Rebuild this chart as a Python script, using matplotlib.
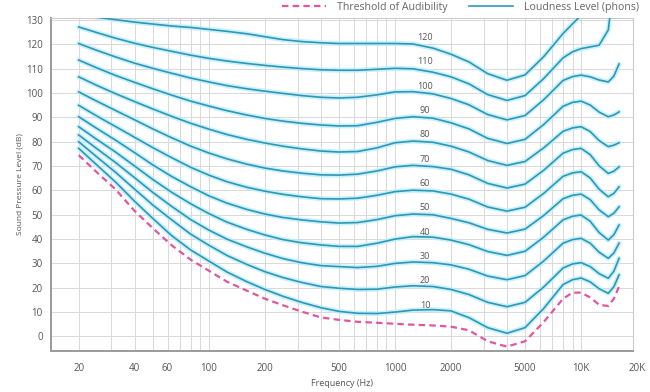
import matplotlib
matplotlib.use('Agg')
import matplotlib.pyplot as plt
from matplotlib.lines import Line2D
from matplotlib.ticker import NullFormatter

freq = [20, 25, 31.5, 40, 50, 63, 80, 100, 125, 160, 200, 250, 315, 400, 500, 630,
        800, 1000, 1250, 1600, 2000, 2500, 3150, 4000, 5000, 6300, 8000, 9000,
        10000, 11200, 12500, 14000, 15000, 16000]

threshold = [74.5, 67.5, 60.5, 51.5, 44.5, 37.5, 31.5, 27.0, 22.5, 18.8, 15.5, 12.8, 10.2, 7.8, 6.8, 6.0,
             5.6, 5.2, 4.8, 4.5, 4.0, 2.5, -2.0, -4.2, -2.0, 5.9, 15.5, 18.0,
             18.0, 16.0, 13.0, 12.5, 15.5, 20.5]

phon10 = [77.3, 70.5, 63.5, 55.5, 48.5, 41.5, 35.5, 31.0, 26.5, 22.5, 19.3, 16.5, 14.0, 11.8, 10.3, 9.5,
          9.4, 10.0, 10.8, 11.0, 10.5, 7.7, 3.6, 1.3, 3.6, 11.5, 21.3, 23.3,
          24.0, 22.4, 19.6, 17.7, 20.4, 25.3]
phon20 = [80.0, 73.8, 67.5, 60.5, 54.0, 48.0, 42.0, 37.5, 33.3, 29.6, 26.6, 24.2, 22.2, 20.5, 19.8, 19.3,
          19.4, 20.3, 20.8, 20.5, 19.3, 17.2, 14.0, 12.2, 14.0, 20.3, 28.1, 29.8,
          30.3, 28.7, 25.8, 23.9, 26.8, 32.1]
phon30 = [82.8, 77.2, 71.5, 65.2, 59.2, 53.5, 48.0, 43.7, 40.0, 36.8, 34.2, 32.0, 30.3, 29.1, 28.7, 28.3,
          28.8, 30.0, 30.6, 30.3, 29.4, 27.6, 24.8, 23.3, 25.0, 31.0, 38.3, 39.8,
          40.3, 38.3, 34.6, 32.1, 34.3, 38.3]
phon40 = [86.2, 81.0, 75.8, 70.0, 64.5, 59.3, 54.5, 50.5, 47.0, 44.0, 41.7, 39.8, 38.5, 37.6, 37.0, 37.0,
          38.3, 40.0, 41.0, 40.8, 39.6, 37.7, 34.9, 33.3, 35.0, 40.8, 47.9, 49.4,
          49.9, 47.3, 42.7, 39.6, 41.8, 45.8]
phon50 = [90.3, 85.5, 80.7, 75.5, 70.5, 65.8, 61.5, 57.8, 54.8, 52.2, 50.3, 48.9, 47.9, 47.1, 46.6, 46.8,
          48.0, 49.6, 50.3, 50.0, 48.5, 46.7, 44.0, 42.5, 44.1, 49.7, 56.6, 58.0,
          58.5, 56.2, 52.0, 49.2, 50.6, 53.3]
phon60 = [95.0, 90.6, 86.3, 81.8, 77.6, 73.5, 69.5, 66.3, 63.6, 61.3, 59.7, 58.4, 57.4, 56.6, 56.5, 56.8,
          58.0, 59.5, 60.1, 59.8, 58.5, 56.4, 53.2, 51.5, 53.1, 58.8, 65.8, 67.2,
          67.7, 65.1, 60.5, 57.4, 58.8, 61.5]
phon70 = [100.5, 96.7, 92.9, 89.0, 85.3, 81.7, 78.2, 75.4, 73.0, 70.8, 69.2, 68.0, 67.1, 66.4, 66.3, 66.7,
          68.0, 69.7, 70.3, 69.8, 68.7, 66.4, 62.9, 61.0, 62.6, 68.3, 75.3, 76.8,
          77.3, 74.7, 70.1, 67.0, 67.9, 69.7]
phon80 = [106.7, 103.2, 99.8, 96.5, 93.5, 90.5, 87.6, 85.2, 83.0, 81.0, 79.5, 78.2, 77.1, 76.2, 75.8, 76.0,
          77.5, 79.6, 80.3, 79.8, 78.2, 75.8, 72.3, 70.3, 71.9, 77.5, 84.3, 85.7,
          86.2, 84.2, 80.5, 78.0, 78.6, 79.6]
phon90 = [113.6, 110.4, 107.3, 104.4, 101.8, 99.2, 96.7, 94.7, 92.8, 91.0, 89.6, 88.5, 87.6, 86.9, 86.5, 86.6,
          88.0, 89.6, 90.3, 89.7, 87.8, 85.3, 81.4, 79.3, 81.0, 87.1, 94.6, 96.2,
          96.7, 95.1, 92.2, 90.3, 91.0, 92.3]
phon100 = [120.4, 117.6, 114.9, 112.3, 110.2, 108.2, 106.2, 104.6, 103.1, 101.8, 100.8, 99.9, 99.0, 98.3, 98.0, 98.3,
           99.3, 100.5, 100.6, 99.7, 97.8, 95.2, 91.2, 89.0, 90.8, 97.3, 105.2, 106.8,
           107.4, 106.7, 105.4, 104.6, 107.0, 112.0]
phon110 = [127.2, 124.9, 122.6, 120.5, 118.8, 117.2, 115.6, 114.3, 113.2, 112.2, 111.4, 110.7, 110.1, 109.6, 109.4, 109.4,
           109.8, 110.2, 110.0, 108.6, 106.7, 103.8, 99.4, 97.0, 99.0, 106.0, 114.5, 117.0,
           118.3, 119.0, 119.7, 126.0, 145.0, 160.0]
phon120 = [133.0, 131.2, 130.2, 129.2, 128.4, 127.6, 127.0, 126.2, 125.4, 124.4, 123.2, 122.0, 121.2, 120.7, 120.4, 120.4,
           120.4, 120.4, 120.2, 118.5, 116.0, 112.8, 108.0, 105.3, 107.5, 115.0, 124.5, 128.5,
           132.0, 140.0, 145.0, 150.0, 155.0, 160.0]

levels = [10, 20, 30, 40, 50, 60, 70, 80, 90, 100, 110, 120]
curves = [phon10, phon20, phon30, phon40, phon50, phon60, phon70, phon80, phon90, phon100, phon110, phon120]

x_ticks = [20, 40, 60, 100, 200, 500, 1000, 2000, 5000, 10000]
x_tick_labels = ['20', '40', '60', '100', '200', '500', '1000', '2000', '5000', '10K']
y_ticks = list(range(0, 131, 10))

blue = '#2e97b6'
glow = '#bdeefa'
pink = '#e4559f'
text_grey = '#555555'

plt.rcParams['font.family'] = ['Open Sans', 'DejaVu Sans']

fig = plt.figure(figsize=(6.5, 3.92), dpi=100)
ax = fig.add_axes([0.0785, 0.1046, 0.8953, 0.8502])

for lvl, vals in zip(levels, curves):
    ax.plot(freq, vals, color=glow, lw=3.6, alpha=0.8, zorder=2,
            solid_capstyle='round', solid_joinstyle='round')
    ax.plot(freq, vals, color=blue, lw=1.2, zorder=3, solid_joinstyle='round')
    ax.text(1450, lvl + 2.8, str(lvl), fontsize=6.5, color=text_grey,
            ha='center', va='center', zorder=4)

ax.plot(freq, threshold, color=pink, lw=1.6, dashes=(2.9, 1.9), zorder=3)

ax.set_xscale('log')
ax.set_xlim(14.2, 19000)
ax.set_ylim(-6, 131)

ax.set_xticks(x_ticks)
ax.set_xticklabels(x_tick_labels)
ax.xaxis.set_minor_formatter(NullFormatter())
ax.set_yticks(y_ticks)
ax.tick_params(which='both', length=0, labelsize=7, colors=text_grey)
ax.tick_params(axis='x', pad=9)
ax.tick_params(axis='y', pad=6)

ax.grid(which='both', axis='x', color='#d9d9d9', lw=0.7)
ax.grid(which='major', axis='y', color='#d9d9d9', lw=0.7)
ax.set_axisbelow(True)

for side in ['left', 'bottom']:
    ax.spines[side].set_color('#9a9a9a')
    ax.spines[side].set_linewidth(1.4)
for side in ['top', 'right']:
    ax.spines[side].set_color('#cccccc')
    ax.spines[side].set_linewidth(0.8)

# 20K sits just past the right edge
ax.annotate('20K', xy=(20000, 0), xycoords=('data', 'axes fraction'),
            xytext=(0, -9), textcoords='offset points', ha='center', va='top',
            fontsize=7, color=text_grey, annotation_clip=False)

ax.set_xlabel('Frequency (Hz)', fontsize=6.5, color=text_grey, labelpad=3)
ax.set_ylabel('Sound Pressure Level (dB)', fontsize=6, color=text_grey, labelpad=2)

handles = [Line2D([], [], color=pink, lw=1.6, dashes=(2.9, 1.9)),
           Line2D([], [], color=blue, lw=1.2)]
fig.legend(handles, ['Threshold of Audibility', 'Loudness Level (phons)'],
           loc='upper right', bbox_to_anchor=(0.997, 1.02), ncol=2, frameon=False,
           fontsize=7.6, handlelength=4.2, handletextpad=1.0, columnspacing=2.0,
           labelcolor='#666666')

fig.savefig('out.png', dpi=100)
